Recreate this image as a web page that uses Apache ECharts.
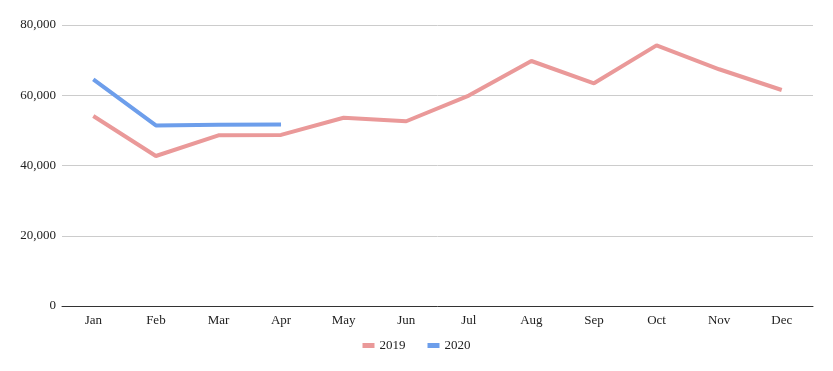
<!DOCTYPE html>
<html><head><meta charset="utf-8">
<script src="https://cdn.jsdelivr.net/npm/echarts@6/dist/echarts.min.js"></script>
<style>html,body{margin:0;padding:0;background:#fff}#c{width:833px;height:371px}</style>
</head><body><div id="c"></div>
<script>
const categories = ['Jan','Feb','Mar','Apr','May','Jun','Jul','Aug','Sep','Oct','Nov','Dec'];
const values2019 = [54100, 42700, 48600, 48700, 53600, 52600, 59900, 69750, 63400, 74200, 67400, 61500];
const values2020 = [64500, 51400, 51600, 51700];
const yTicks = [0, 20000, 40000, 60000, 80000];
const FONT = 'Liberation Serif';
const chart = echarts.init(document.getElementById('c'));
chart.setOption({
  animation: false,
  textStyle: {fontFamily: FONT},
  grid: {left: 62, right: 20, top: 25, bottom: 65},
  legend: {
    bottom: 14, left: 'center', itemWidth: 12, itemHeight: 5, itemGap: 22,
    icon: 'rect',
    textStyle: {fontFamily: FONT, fontSize: 13, color: '#222'},
    data: ['2019', '2020']
  },
  xAxis: {
    type: 'category', data: categories, boundaryGap: true,
    axisLine: {lineStyle: {color: '#333', width: 1}},
    axisTick: {show: false},
    axisLabel: {fontFamily: FONT, fontSize: 13, color: '#222', margin: 8}
  },
  yAxis: {
    type: 'value', min: yTicks[0], max: yTicks[yTicks.length-1], interval: 20000,
    axisLine: {show: false}, axisTick: {show: false},
    splitLine: {lineStyle: {color: '#ccc'}},
    axisLabel: {fontFamily: FONT, fontSize: 13, color: '#222', margin: 6,
      formatter: v => v.toLocaleString('en-US')}
  },
  series: [
    {name: '2019', type: 'line', data: values2019, symbol: 'none',
     lineStyle: {color: '#ea9999', width: 4}, itemStyle: {color: '#ea9999'}},
    {name: '2020', type: 'line', data: values2020, symbol: 'none',
     lineStyle: {color: '#6d9eeb', width: 4}, itemStyle: {color: '#6d9eeb'}}
  ]
});
</script></body></html>
